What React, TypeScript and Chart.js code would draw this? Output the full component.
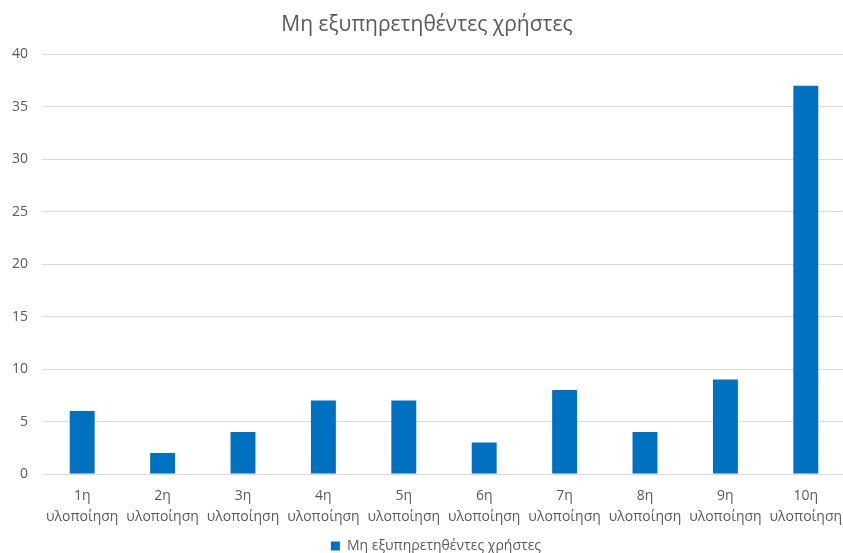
import React, { useEffect, useRef } from "react";
import { Chart, registerables } from "chart.js";

Chart.register(...registerables);

const titleText = "Μη εξυπηρετηθέντες χρήστες";
const seriesName = "Μη εξυπηρετηθέντες χρήστες";
const categories: string[][] = [
  ["1η", "υλοποίηση"],
  ["2η", "υλοποίηση"],
  ["3η", "υλοποίηση"],
  ["4η", "υλοποίηση"],
  ["5η", "υλοποίηση"],
  ["6η", "υλοποίηση"],
  ["7η", "υλοποίηση"],
  ["8η", "υλοποίηση"],
  ["9η", "υλοποίηση"],
  ["10η", "υλοποίηση"],
];
const values: number[] = [6, 2, 4, 7, 7, 3, 8, 4, 9, 37];
const yMin = 0;
const yMax = 40;
const yStep = 5;

const shiftBoxes = {
  id: "shiftBoxes",
  afterLayout(chart: any) {
    const t = chart.titleBlock;
    if (t) {
      t.left += 5;
      t.right += 5;
    }
    const l = chart.legend;
    if (l) {
      l.left += 14;
      l.right += 14;
    }
  },
};

export default function App() {
  const ref = useRef<HTMLCanvasElement | null>(null);
  useEffect(() => {
    document.body.style.margin = "0";
    const font = "'Open Sans', 'Noto Sans', sans-serif";
    const chart = new Chart(ref.current!, {
      type: "bar",
      data: {
        labels: categories,
        datasets: [
          {
            label: seriesName,
            data: values,
            backgroundColor: "#0070C0",
            borderWidth: 0,
            barPercentage: 0.62,
            categoryPercentage: 0.5,
          },
        ],
      },
      plugins: [shiftBoxes],
      options: {
        animation: false,
        responsive: false,
        maintainAspectRatio: false,
        layout: { padding: { left: -2, right: 1, top: 1, bottom: -10 } },
        plugins: {
          title: {
            display: true,
            text: titleText,
            color: "#595959",
            font: { family: font, size: 21, weight: "normal" },
            padding: { top: 11, bottom: 17 },
          },
          legend: {
            display: true,
            position: "bottom",
            labels: {
              color: "#595959",
              font: { family: font, size: 14 },
              boxWidth: 9,
              boxHeight: 9,
              padding: 2,
            },
          },
          tooltip: { enabled: false },
        },
        scales: {
          x: {
            grid: { display: false },
            border: { display: true, color: "#d9d9d9" },
            ticks: {
              color: "#595959",
              font: { family: font, size: 14, lineHeight: 1.5 },
              maxRotation: 0,
              autoSkip: false,
              padding: 4,
            },
            afterFit: (scale: any) => {
              scale.height = 63;
              scale.paddingLeft = 0;
              scale.paddingRight = 0;
            },
          },
          y: {
            min: yMin,
            max: yMax,
            grid: { color: "#d9d9d9", drawTicks: false },
            border: { display: false },
            ticks: {
              stepSize: yStep,
              color: "#595959",
              font: { family: font, size: 14 },
              padding: 14,
            },
          },
        },
      },
    });
    return () => chart.destroy();
  }, []);
  return (
    <div style={{ width: 843, height: 553, overflow: "hidden" }}>
      <canvas ref={ref} width={847} height={553} />
    </div>
  );
}
